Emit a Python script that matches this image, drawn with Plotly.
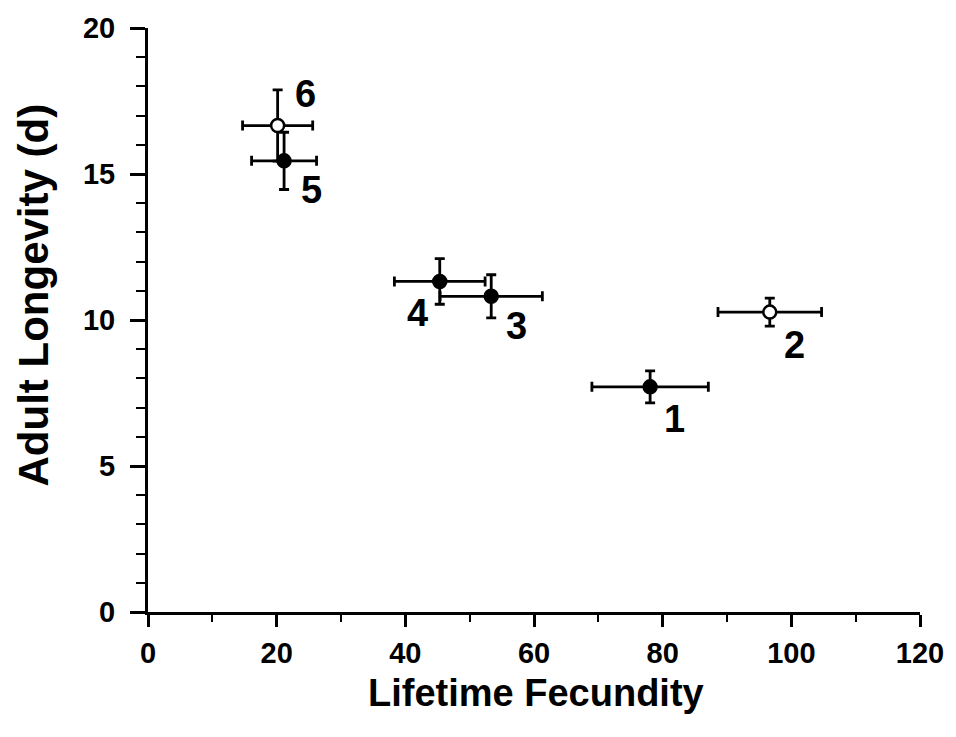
import plotly.graph_objects as go

# Data
ids = ["1", "2", "3", "4", "5", "6"]
fecundity = [78.05, 96.65, 53.35, 45.35, 21.15, 20.15]
fecundity_err = [9.05, 8.05, 7.95, 7.05, 5.05, 5.45]
longevity = [7.71, 10.27, 10.81, 11.32, 15.45, 16.66]
longevity_err = [0.55, 0.48, 0.74, 0.78, 0.98, 1.22]
open_marker = [False, True, False, False, False, True]

x_ticks = [0, 20, 40, 60, 80, 100, 120]
y_ticks = [0, 5, 10, 15, 20]

# label offsets in pixels (style only)
label_dx = [24, 25, 25, -22, 27, 28]
label_dy = [-32, -33, -30, -32, -29, 32]

FONT = "Liberation Sans, Arial, sans-serif"

fig = go.Figure()

for is_open in (False, True):
    idx = [i for i, o in enumerate(open_marker) if o == is_open]
    fig.add_trace(go.Scatter(
        x=[fecundity[i] for i in idx],
        y=[longevity[i] for i in idx],
        mode="markers",
        marker=dict(size=13, symbol="circle",
                    color="white" if is_open else "black",
                    line=dict(color="black", width=2.5)),
        error_x=dict(type="data", array=[fecundity_err[i] for i in idx],
                     color="black", thickness=2.8, width=5),
        error_y=dict(type="data", array=[longevity_err[i] for i in idx],
                     color="black", thickness=2.8, width=5),
        showlegend=False,
        cliponaxis=False,
    ))

for i, lab in enumerate(ids):
    fig.add_annotation(x=fecundity[i], y=longevity[i], text=f"<b>{lab}</b>",
                       showarrow=False, xshift=label_dx[i], yshift=label_dy[i],
                       font=dict(family=FONT, size=38, color="black"))

fig.add_annotation(xref="paper", yref="paper", x=0.503, y=-0.138,
                   xanchor="center", yanchor="middle",
                   text="<b>Lifetime Fecundity</b>", showarrow=False,
                   font=dict(family=FONT, size=38, color="black"))
fig.add_annotation(xref="paper", yref="paper", x=-0.1486, y=0.5425,
                   xanchor="center", yanchor="middle",
                   text="<b>Adult Longevity (d)</b>", showarrow=False, textangle=-90,
                   font=dict(family=FONT, size=42, color="black"))

fig.update_layout(
    width=956, height=737,
    margin=dict(l=148, r=34, t=24, b=125),
    plot_bgcolor="white", paper_bgcolor="white",
    font=dict(family=FONT, color="black"),
)
fig.update_xaxes(
    range=[0, 120], tickvals=x_ticks, ticktext=[f"<b>{v}</b>" for v in x_ticks],
    showgrid=False, zeroline=False, showline=True, linecolor="black", linewidth=3,
    ticks="outside", ticklen=12, tickwidth=2.5, tickcolor="black",
    ticklabelstandoff=1,
    tickfont=dict(family=FONT, size=29, color="black"),
    minor=dict(dtick=10, tick0=0, ticks="outside", ticklen=7, tickwidth=2, tickcolor="black", showgrid=False),
)
fig.update_yaxes(
    range=[0, 20], tickvals=y_ticks, ticktext=[f"<b>{v}</b>" for v in y_ticks],
    showgrid=False, zeroline=False, showline=True, linecolor="black", linewidth=3,
    ticks="outside", ticklen=15, tickwidth=2.5, tickcolor="black",
    ticklabelstandoff=9,
    tickfont=dict(family=FONT, size=29, color="black"),
    minor=dict(dtick=1, tick0=0, ticks="outside", ticklen=9, tickwidth=2, tickcolor="black", showgrid=False),
)

fig.write_html("out.html")
